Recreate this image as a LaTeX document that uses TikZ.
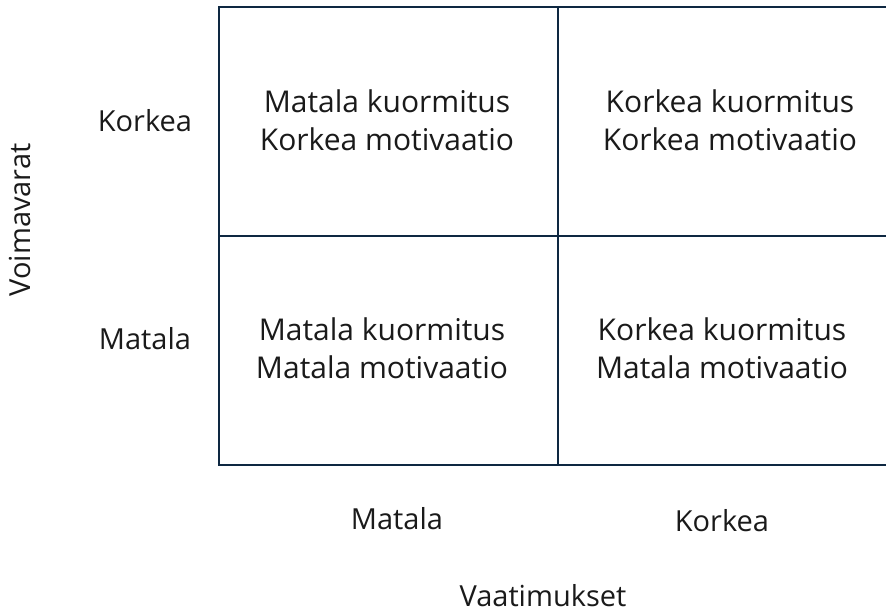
\documentclass[tikz,border=0pt]{standalone}
\usepackage{fontspec}
\setmainfont{Open Sans}
\usepackage{tikz}

\definecolor{gridline}{HTML}{0E2841}
\definecolor{textcol}{HTML}{1A1A1A}

\begin{document}
\begin{tikzpicture}[x=1pt, y=-1pt,
    celltext/.style={align=center, text=textcol, font=\fontsize{30}{38}\selectfont},
    axistext/.style={text=textcol, font=\fontsize{29}{34}\selectfont}]

    \useasboundingbox (0, 0) rectangle (886, 612);

    % Draw the frame and the dividing lines of the four cells
    \draw[gridline, line width=2.5pt] (886, 7) -- (219, 7) -- (219, 465) -- (886, 465);
    \draw[gridline, line width=2.5pt] (558, 7) -- (558, 465);
    \draw[gridline, line width=2.5pt] (219, 236) -- (886, 236);

    % Text of the cells
    \node[celltext] (lowhigh) at (387, 120) {Matala kuormitus\\Korkea motivaatio};
    \node[celltext] (highhigh) at (730, 120) {Korkea kuormitus\\Korkea motivaatio};
    \node[celltext] (lowlow) at (382, 348) {Matala kuormitus\\Matala motivaatio};
    \node[celltext] (highlow) at (722, 348) {Korkea kuormitus\\Matala motivaatio};

    % Labels of the rows
    \node[axistext] (rowhigh) at (145, 121) {Korkea};
    \node[axistext] (rowlow) at (145, 339) {Matala};
    \node[axistext, rotate=90] (rowtitle) at (20, 220) {Voimavarat};

    % Labels of the columns
    \node[axistext] (collow) at (397, 519) {Matala};
    \node[axistext] (colhigh) at (722, 521) {Korkea};
    \node[axistext, anchor=base] (coltitle) at (543, 606) {Vaatimukset};

\end{tikzpicture}
\end{document}
